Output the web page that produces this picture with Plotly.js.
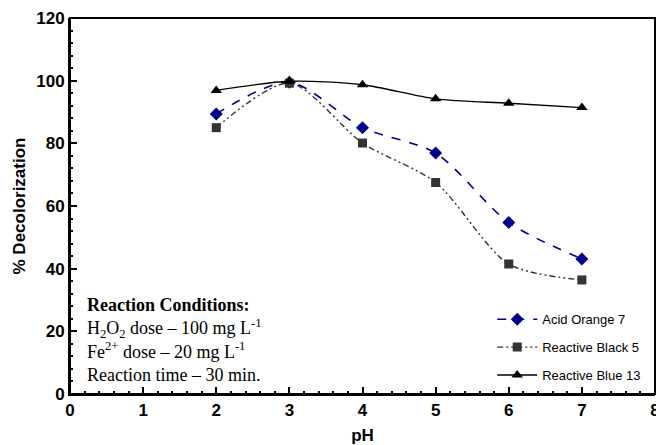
<!DOCTYPE html>
<html>
<head>
<meta charset="utf-8">
<script src="https://cdn.plot.ly/plotly-3.0.1.min.js"></script>
<style>html,body{margin:0;padding:0;background:#fff;}#chart{width:656px;height:445px;}</style>
</head>
<body>
<div id="chart"></div>
<script>
const pH = [2, 3, 4, 5, 6, 7];
const acidOrange7 = [89.4, 99.5, 85.0, 76.9, 54.7, 43.1];
const reactiveBlack5 = [85.0, 99.2, 80.1, 67.5, 41.5, 36.4];
const reactiveBlue13 = [96.9, 99.8, 98.7, 94.2, 92.8, 91.4];
const seriesNames = ["Acid Orange 7", "Reactive Black 5", "Reactive Blue 13"];

const traces = [
  {x: pH, y: acidOrange7, name: seriesNames[0], legendgroup: "a", mode: "lines+markers",
   line: {color: "#00008B", width: 1.6, dash: "dash", shape: "spline", smoothing: 0.8},
   marker: {symbol: "diamond", size: 10, color: "#00008B"}},
  {x: pH, y: reactiveBlack5, name: seriesNames[1], legendgroup: "b", mode: "lines+markers",
   line: {color: "#333333", width: 1.4, dash: "6px,3px,2px,3px,2px,3px", shape: "spline", smoothing: 0.8},
   marker: {symbol: "square", size: 9, color: "#333333"}},
  {x: pH, y: reactiveBlue13, name: seriesNames[2], legendgroup: "c", mode: "lines+markers",
   line: {color: "#000000", width: 1.4, shape: "spline", smoothing: 0.8},
   marker: {symbol: "triangle-up", size: 10, color: "#000000"}}
];

const fontSans = "Liberation Sans, Arial, sans-serif";

const layout = {
  width: 656, height: 445,
  margin: {l: 70, r: 1, t: 18, b: 51},
  showlegend: true,
  legend: {x: 0.985, xanchor: "right", y: 0.01, yanchor: "bottom", bgcolor: "rgba(0,0,0,0)",
           font: {family: fontSans, size: 13, color: "#000"},
           tracegroupgap: 8, itemwidth: 40},
  xaxis: {
    showline: true, linewidth: 2, linecolor: "#000",
    ticks: "inside", ticklen: 7, tickwidth: 2, tickcolor: "#000",
    range: [0, 8],
    minor: {ticks: "inside", ticklen: 3, tickcolor: "#000", dtick: 0.2, gridcolor: "rgba(0,0,0,0)"},
    gridcolor: "rgba(0,0,0,0)", zerolinecolor: "rgba(0,0,0,0)",
    ticklabeloverflow: "allow",
    tickfont: {family: fontSans, size: 17, color: "#000", weight: "bold"},
    title: {text: "pH", font: {family: fontSans, size: 17, color: "#000", weight: "bold"}}
  },
  yaxis: {
    showline: true, linewidth: 2, linecolor: "#000",
    ticks: "inside", ticklen: 7, tickwidth: 2, tickcolor: "#000",
    range: [0, 120],
    minor: {ticks: "inside", ticklen: 3, tickcolor: "#000", dtick: 4, gridcolor: "rgba(0,0,0,0)"},
    gridcolor: "rgba(0,0,0,0)", zerolinecolor: "rgba(0,0,0,0)",
    tickfont: {family: fontSans, size: 17, color: "#000", weight: "bold"},
    title: {text: "% Decolorization", font: {family: fontSans, size: 17, color: "#000", weight: "bold"}}
  },
  shapes: [{type: "rect", xref: "paper", yref: "paper", x0: 0, x1: 1, y0: 0, y1: 1,
            line: {color: "#000", width: 2}, fillcolor: "rgba(0,0,0,0)", layer: "above"}],
  annotations: [{
    xref: "paper", yref: "paper", x: 0.026, y: 0.018, xanchor: "left", yanchor: "bottom",
    align: "left", showarrow: false,
    font: {family: "Liberation Serif, Times New Roman, serif", size: 18, color: "#000"},
    text: "<b>Reaction Conditions:</b><br>H<sub>2</sub>O<sub>2</sub> dose – 100 mg L<sup>-1</sup><br>Fe<sup>2+</sup> dose – 20 mg L<sup>-1</sup><br>Reaction time – 30 min."
  }]
};

Plotly.newPlot("chart", traces, layout, {displayModeBar: false});
</script>
</body>
</html>
